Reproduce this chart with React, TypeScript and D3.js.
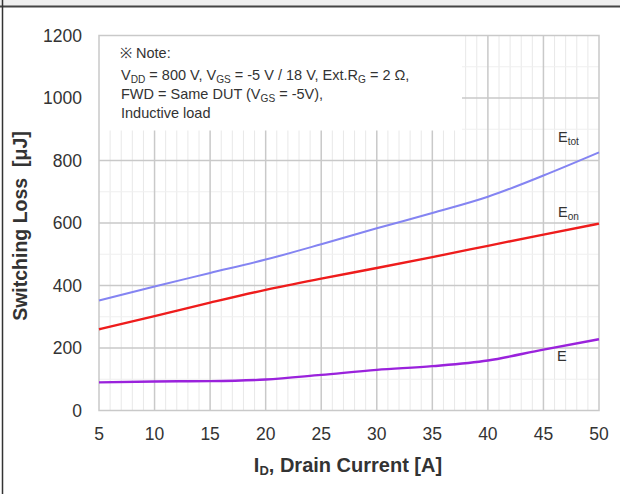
import React from 'react';
import * as d3 from 'd3';

const current = [5, 10, 15, 20, 25, 30, 35, 40, 45, 50];
const eTot = [352, 397, 440, 483, 532, 583, 632, 684, 752, 826];
const eOn = [260, 302, 345, 386, 422, 456, 491, 527, 563, 598];
const eOff = [90, 93, 94, 99, 114, 130, 142, 160, 195, 228];
const xTicks = [5, 10, 15, 20, 25, 30, 35, 40, 45, 50];
const yTicks = [0, 200, 400, 600, 800, 1000, 1200];

const series = [
  { name: 'tot', values: eTot, color: '#8484f2', width: 2 },
  { name: 'on', values: eOn, color: '#ee1c1c', width: 2.4 },
  { name: 'off', values: eOff, color: '#9a22dc', width: 2.4 },
];

const W = 620;
const H = 494;
const left = 99;
const right = 599;
const top = 35.5;
const bottom = 410.5;
const font = "'Liberation Sans', Arial, sans-serif";
const textColor = '#333';

type Part = [string, boolean?];

const Rich = ({ x, y, parts, size = 14.5 }: { x: number; y: number; parts: Part[]; size?: number }) => (
  <text x={x} y={y} fontSize={size} fill={textColor} fontFamily={font}>
    {parts.map(([t, sub], i) =>
      sub ? (
        <tspan key={i} fontSize={size * 0.7} dy={3}>{t}</tspan>
      ) : (
        <tspan key={i} dy={i > 0 && parts[i - 1][1] ? -3 : 0}>{t}</tspan>
      )
    )}
  </text>
);

export default function App() {
  const x = d3.scaleLinear().domain([5, 50]).range([left, right]);
  const y = d3.scaleLinear().domain([0, 1200]).range([bottom, top]);
  const line = d3
    .line<number>()
    .x((_, i) => x(current[i]))
    .y((d) => y(d))
    .curve(d3.curveMonotoneX);

  const minorX = d3.range(6, 50).filter((v) => v % 5 !== 0);
  const minorY = d3.range(100, 1200, 200);

  return (
    <div style={{ position: 'absolute', left: 0, top: 0 }}>
      <svg width={W} height={H} style={{ display: 'block', background: '#fff' }}>
        {/* frame */}
        <rect x={0} y={0} width={W} height={6} fill="#efefef" />
        <line x1={0} x2={W} y1={6.5} y2={6.5} stroke="#444" strokeWidth={2} />
        <line x1={2.5} x2={2.5} y1={0} y2={H} stroke="#333" strokeWidth={1.5} />

        {/* grid */}
        {minorX.map((v) => (
          <line key={'mx' + v} x1={x(v)} x2={x(v)} y1={top} y2={bottom} stroke="#e8e8e8" strokeWidth={1} />
        ))}
        {minorY.map((v) => (
          <line key={'my' + v} x1={left} x2={right} y1={y(v)} y2={y(v)} stroke="#efefef" strokeWidth={1} />
        ))}
        {xTicks.slice(1, -1).map((v) => (
          <line key={'gx' + v} x1={x(v)} x2={x(v)} y1={top} y2={bottom} stroke="#c9c9c9" strokeWidth={1.5} />
        ))}
        {yTicks.slice(1, -1).map((v) => (
          <line key={'gy' + v} x1={left} x2={right} y1={y(v)} y2={y(v)} stroke="#c9c9c9" strokeWidth={1.5} />
        ))}

        {/* note box */}
        <rect x={left} y={top} width={363} height={95} fill="#fff" />
        <rect x={left} y={top} width={right - left} height={bottom - top} fill="none" stroke="#c9c9c9" strokeWidth={1.5} />

        <Rich x={120} y={58} parts={[['※ Note:']]} />
        <Rich
          x={121}
          y={80}
          parts={[
            ['V'], ['DD', true], [' = 800 V, V'], ['GS', true], [' = -5 V / 18 V, Ext.R'], ['G', true], [' = 2 Ω,'],
          ]}
        />
        <Rich x={121} y={99} parts={[['FWD = Same DUT (V'], ['GS', true], [' = -5V),']]} />
        <Rich x={121} y={118} parts={[['Inductive load']]} />

        {/* curves */}
        {series.map((s) => (
          <path key={s.name} d={line(s.values) || ''} fill="none" stroke={s.color} strokeWidth={s.width} />
        ))}

        {/* curve labels */}
        <Rich x={558} y={142} parts={[['E'], ['tot', true]]} />
        <Rich x={558} y={217} parts={[['E'], ['on', true]]} />
        <Rich x={557} y={361} parts={[['E']]} />

        {/* y axis */}
        {yTicks.map((v) => (
          <text key={'yt' + v} x={82} y={y(v) + 6} textAnchor="end" fontSize={17.5} fill={textColor} fontFamily={font}>
            {v}
          </text>
        ))}
        <text
          transform={`translate(27,226) rotate(-90)`}
          textAnchor="middle"
          fontSize={19.5}
          fontWeight="bold"
          fill={textColor}
          fontFamily={font}
        >
          {'Switching Loss\u00a0 [μJ]'}
        </text>

        {/* x axis */}
        {xTicks.map((v) => (
          <text key={'xt' + v} x={x(v)} y={440} textAnchor="middle" fontSize={17.5} fill={textColor} fontFamily={font}>
            {v}
          </text>
        ))}
        <text x={348} y={472} textAnchor="middle" fontSize={20} fontWeight="bold" fill={textColor} fontFamily={font}>
          I<tspan fontSize={13} dy={3}>D</tspan>
          <tspan dy={-3}>, Drain Current [A]</tspan>
        </text>
      </svg>
    </div>
  );
}
